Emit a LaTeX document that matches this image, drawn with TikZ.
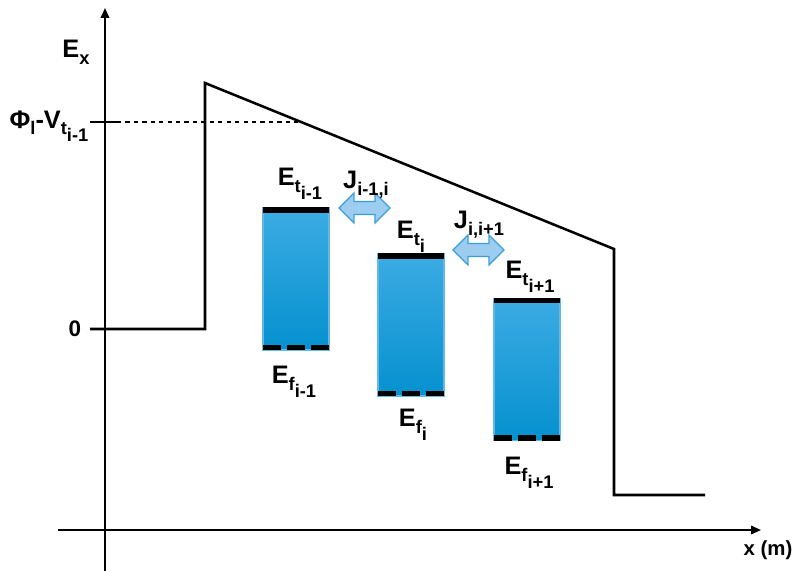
\documentclass[tikz,border=0pt]{standalone}
\usepackage{fontspec}
\setmainfont{Liberation Sans}
\usepackage{xcolor}
\definecolor{trapTop}{HTML}{3CABE3}
\definecolor{trapBottom}{HTML}{0591CF}
\definecolor{trapEdge}{HTML}{64B8E8}
\definecolor{hopFill}{HTML}{9CCDF0}
\definecolor{hopEdge}{HTML}{3A9FD8}
\usepackage{tikz}
\usetikzlibrary{shapes.arrows, arrows.meta, positioning, calc}
\newcommand\lowsub[1]{\raisebox{-4.8pt}{\fontsize{13}{15}\selectfont #1}}

\begin{document}
\begin{tikzpicture}[
        x=0.025cm, y=-0.025cm,
        axisLine/.style={
            line width=1.3pt,
            -{Triangle[length=7pt,width=6pt]}
        },
        bandLine/.style={
            line width=1.8pt,
            line join=miter
        },
        trapBox/.style={
            draw=trapEdge,
            line width=0.8pt,
            top color=trapTop,
            bottom color=trapBottom,
            minimum width=1.65cm,
            minimum height=3.55cm,
            inner sep=0pt
        },
        trapLevel/.style={
            line width=3.8pt
        },
        fermiLevel/.style={
            line width=3.8pt,
            dash pattern=on 0.45cm off 0.14cm
        },
        hopArrow/.style={
            shape=double arrow,
            draw=hopEdge,
            fill=hopFill,
            line width=0.9pt,
            inner sep=0.1375cm,
            minimum height=1.27cm,
            minimum width=0.74cm,
            double arrow head extend=0.2cm
        },
        levelText/.style={
            font=\fontsize{18}{21}\selectfont\bfseries,
            inner sep=0pt
        }
    ]
    \useasboundingbox (0,0) rectangle (796,571);

    % Axes
    \coordinate (xStart) at (58,530);
    \coordinate (xEnd) at (761,530);
    \coordinate (yStart) at (105,571);
    \coordinate (yEnd) at (105,8);
    \draw[axisLine] (xStart) -- (xEnd);
    \draw[axisLine] (yStart) -- (yEnd);
    \node[levelText] (ex) at (76,52) {E\lowsub{x}};
    \node[font=\fontsize{14.5}{16}\selectfont\bfseries, inner sep=0pt] (xm) at (768,550) {x (m)};

    % Band profile
    \coordinate (zeroTick) at (90,329);
    \coordinate (barrierFoot) at (205,329);
    \coordinate (barrierTop) at (205,83);
    \coordinate (slopeEnd) at (614,249);
    \coordinate (dropEnd) at (614,495);
    \coordinate (tailEnd) at (705,495);
    \draw[bandLine] (zeroTick) -- (barrierFoot) -- (barrierTop) -- (slopeEnd) -- (dropEnd) -- (tailEnd);
    \node[font=\fontsize{16}{18}\selectfont\bfseries, inner sep=0pt] (zero) at (75,329) {0};

    % Threshold level
    \coordinate (phiTick) at (90,122);
    \coordinate (phiAxis) at (117,122);
    \coordinate (phiMeet) at (298,122);
    \draw[line width=1.8pt] (phiTick) -- (phiAxis);
    \draw[line width=0.9pt, dashed] (phiAxis) -- (phiMeet);
    \node[levelText] (phi) at (49,126) {Φ\lowsub{l}-V\lowsub{t\lowsub{i-1}}};

    % Traps
    \node[trapBox] (trapA) at (296,279) {};
    \node[trapBox] (trapB) at (411,325) {};
    \node[trapBox] (trapC) at (527,369.5) {};
    \foreach \t in {trapA, trapB, trapC} {
        \draw[trapLevel] ($(\t.north west)+(1,2.5)$) -- ($(\t.north east)+(-1,2.5)$);
        \draw[fermiLevel] ($(\t.south west)+(1,-3)$) -- ($(\t.south east)+(-1,-3)$);
    }

    % Level labels
    \node[levelText] (etA) at (300,184) {E\lowsub{t\lowsub{i-1}}};
    \node[levelText] (etB) at (411,237) {E\lowsub{t\lowsub{i}}};
    \node[levelText] (etC) at (530,277) {E\lowsub{t\lowsub{i+1}}};
    \node[levelText] (efA) at (294,382) {E\lowsub{f\lowsub{i-1}}};
    \node[levelText] (efB) at (413,425) {E\lowsub{f\lowsub{i}}};
    \node[levelText] (efC) at (529,473) {E\lowsub{f\lowsub{i+1}}};

    % Hopping currents
    \node[hopArrow] (hopAB) at (364.5,208) {};
    \node[hopArrow] (hopBC) at (478.5,250) {};
    \node[levelText] (jAB) at (366,185) {J\lowsub{i-1,i}};
    \node[levelText] (jBC) at (479,225) {J\lowsub{i,i+1}};
    \end{tikzpicture}
\end{document}
